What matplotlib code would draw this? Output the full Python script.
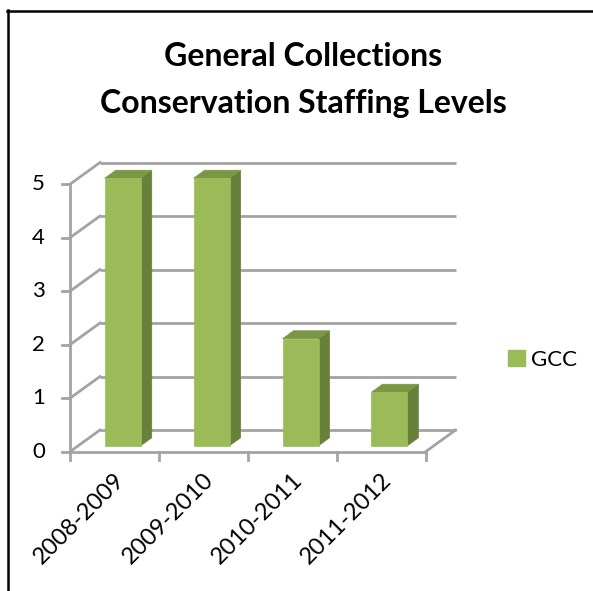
import matplotlib
matplotlib.use("Agg")
import matplotlib.pyplot as plt
from matplotlib.patches import Polygon, Patch
from matplotlib.lines import Line2D

categories = ["2008-2009", "2009-2010", "2010-2011", "2011-2012"]
values = [5, 5, 2, 1]
series_name = "GCC"
y_ticks = [0, 1, 2, 3, 4, 5]
title = "General Collections\nConservation Staffing Levels"

FONT = ["Lato", "DejaVu Sans"]
plt.rcParams['font.family'] = FONT

W, H = 593, 591
fig = plt.figure(figsize=(W / 100, H / 100), dpi=100)
ax = fig.add_axes([0, 0, 1, 1])
ax.set_axis_off()

# pixel layout of the front plane
PX0, PXU = 70.0, 88.9      # pixel x of category 0, px per category
PY0, PYU = 451.7, 53.5     # pixel y (from top) of value 0, px per unit
ax.set_xlim(-PX0 / PXU, (W - PX0) / PXU)
ax.set_ylim((PY0 - H) / PYU, PY0 / PYU)

DX, DY = 30.0 / PXU, 21.7 / PYU   # depth offset of back wall (data units)
ncat = len(categories)
ymax = max(y_ticks)

def P(x, y, d):
    return (x + d * DX, y + d * DY)

grid_c = "#A3A3A3"
lw = 2.0
# back wall gridlines
for t in y_ticks:
    a, b = P(0, t, 1), P(ncat, t, 1)
    ax.plot([a[0], b[0]], [a[1], b[1]], color=grid_c, lw=lw, solid_capstyle="butt", zorder=1)
    # side wall diagonals
    c = P(0, t, 0)
    ax.plot([c[0], a[0]], [c[1], a[1]], color=grid_c, lw=lw, zorder=1)
# floor right edge
a, b = P(ncat, 0, 0), P(ncat, 0, 1)
ax.plot([a[0], b[0]], [a[1], b[1]], color=grid_c, lw=lw, zorder=1)

# bars
bw = 0.405
d0, d1 = 0.276, 0.643
front_c, side_c, top_c = "#9BBB59", "#68813A", "#7A9843"
for i, v in enumerate(values):
    xl = i + 0.5 - bw / 2
    xr = i + 0.5 + bw / 2
    front = [P(xl, 0, d0), P(xr, 0, d0), P(xr, v, d0), P(xl, v, d0)]
    side = [P(xr, 0, d0), P(xr, 0, d1), P(xr, v, d1), P(xr, v, d0)]
    top = [P(xl, v, d0), P(xr, v, d0), P(xr, v, d1), P(xl, v, d1)]
    ax.add_patch(Polygon(side, closed=True, fc=side_c, ec=side_c, lw=0.5, zorder=3))
    ax.add_patch(Polygon(top, closed=True, fc=top_c, ec=top_c, lw=0.5, zorder=3))
    ax.add_patch(Polygon(front, closed=True, fc=front_c, ec=front_c, lw=0.5, zorder=4))

# front axes
tick_x = 8.0 / PXU
tick_y = 8.0 / PYU
ax.plot([0, 0], [0, ymax], color=grid_c, lw=lw, zorder=5)
for t in y_ticks:
    ax.plot([-tick_x, 0], [t, t], color=grid_c, lw=lw, zorder=5)
    ax.text(-25.0 / PXU, t, str(t), ha="right", va="center", fontsize=16, color="black")
ax.plot([0, ncat], [0, 0], color=grid_c, lw=lw, zorder=5)
for i in range(ncat + 1):
    ax.plot([i, i], [0, -tick_y], color=grid_c, lw=lw, zorder=5)
for i, c in enumerate(categories):
    ax.text(i + 0.5 + 7.0 / PXU, -25.0 / PYU, c, rotation=45, rotation_mode="anchor",
            ha="right", va="center", fontsize=17, color="black")

# title
t1, t2 = title.split("\n")
fig.text(303 / W, 1 - 66 / H, t1, ha="center", va="baseline",
         fontsize=23, fontweight="bold", color="black")
fig.text(303 / W, 1 - 113 / H, t2, ha="center", va="baseline",
         fontsize=23, fontweight="bold", color="black")

# legend
leg = ax.legend(handles=[Patch(fc=front_c, ec=front_c, label=series_name)],
                loc="center left", bbox_to_anchor=(508 / W, 1 - 360 / H),
                bbox_transform=fig.transFigure, frameon=False, fontsize=16,
                handlelength=0.75, handleheight=0.75, handletextpad=0.3, borderpad=0,
                borderaxespad=0)

# chart-area border (left and top)
fig.add_artist(Line2D([7.5 / W, 7.5 / W], [0, 1 - 10 / H], color="black", lw=1.8,
                      transform=fig.transFigure))
fig.add_artist(Line2D([7 / W, 1], [1 - 10.5 / H, 1 - 10.5 / H], color="black", lw=1.8,
                      transform=fig.transFigure))

fig.savefig("out.png", dpi=100)
